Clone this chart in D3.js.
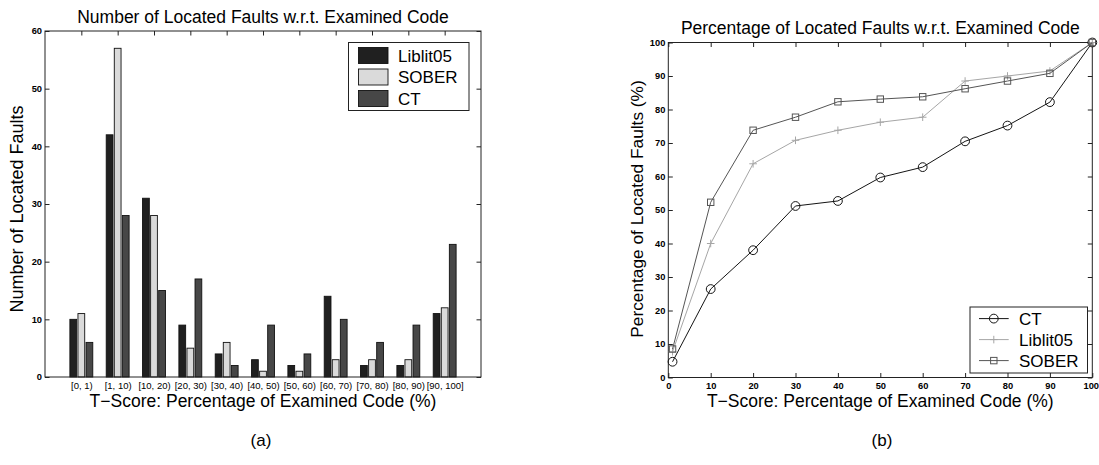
<!DOCTYPE html>
<html>
<head>
<meta charset="utf-8">
<script src="https://cdn.jsdelivr.net/npm/d3@7/dist/d3.min.js"></script>
<style>
  html, body { margin: 0; padding: 0; background: #fff; }
  svg { display: block; }
  text { font-family: "Liberation Sans", Arial, Helvetica, sans-serif; fill: #000; }
</style>
</head>
<body>
<svg id="chart" width="1099" height="465"></svg>
<script>
// ---------- Data: panel (a) ----------
const categories = ["[0, 1)", "[1, 10)", "[10, 20)", "[20, 30)", "[30, 40)", "[40, 50)",
                    "[50, 60)", "[60, 70)", "[70, 80)", "[80, 90)", "[90, 100]"];
const barSeriesNames = ["Liblit05", "SOBER", "CT"];
const liblitCounts = [10, 42, 31, 9, 4, 3, 2, 14, 2, 2, 11];
const soberCounts  = [11, 57, 28, 5, 6, 1, 1, 3, 3, 3, 12];
const ctCounts     = [6, 28, 15, 17, 2, 9, 4, 10, 6, 9, 23];
const countTicks   = [0, 10, 20, 30, 40, 50, 60];

// ---------- Data: panel (b) ----------
const tScores    = [1, 10, 20, 30, 40, 50, 60, 70, 80, 90, 100];
const ctPct      = [4.7, 26.4, 38.0, 51.2, 52.7, 59.7, 62.8, 70.5, 75.2, 82.2, 100];
const liblitPct  = [7.7, 40.0, 63.8, 70.8, 73.8, 76.2, 77.7, 88.5, 90.0, 91.5, 100];
const soberPct   = [8.5, 52.3, 73.8, 77.7, 82.3, 83.1, 83.8, 86.2, 88.5, 90.8, 100];
const lineSeriesNames = ["CT", "Liblit05", "SOBER"];
const pctTicks   = [0, 10, 20, 30, 40, 50, 60, 70, 80, 90, 100];

// ---------- Styles ----------
const FONT = '"Liberation Sans", Arial, Helvetica, sans-serif';
const barColors = { "Liblit05": "#202020", "SOBER": "#dadada", "CT": "#474747" };
const lineColors = { "CT": "#141414", "Liblit05": "#a6a6a6", "SOBER": "#555555" };
const lineMarkers = { "CT": "circle", "Liblit05": "plus", "SOBER": "square" };
const axisColor = "#222";
const tickLen = 4.5;
const tickFont = 9.3;
const W = 1099;

const svg = d3.select("#chart");

function styleTicks(g) {
  g.select(".domain").remove();
  g.selectAll("line").attr("stroke", axisColor);
  g.selectAll("text").attr("font-family", FONT).attr("font-size", tickFont)
    .attr("font-weight", "bold").attr("fill", "#111");
}

// ================= Panel (a) =================
const A = { left: 45, right: 481, top: 31, bottom: 377 };
const gA = svg.append("g");

const xA = d3.scaleLinear().domain([0, categories.length + 1]).range([A.left, A.right]);
const yA = d3.scaleLinear().domain([0, 60]).range([A.bottom, A.top]);

const barData = [liblitCounts, soberCounts, ctCounts];
const offsets = [-0.222, 0, 0.222];
const barW = 0.186;

barData.forEach((vals, k) => {
  gA.append("g").selectAll("rect")
    .data(vals)
    .join("rect")
    .attr("x", (d, i) => xA(i + 1 + offsets[k] - barW / 2))
    .attr("width", xA(barW) - xA(0))
    .attr("y", d => yA(d))
    .attr("height", d => yA(0) - yA(d))
    .attr("fill", barColors[barSeriesNames[k]])
    .attr("stroke", "#111")
    .attr("stroke-width", 0.9);
});

gA.append("rect")
  .attr("x", A.left).attr("y", A.top)
  .attr("width", A.right - A.left).attr("height", A.bottom - A.top)
  .attr("fill", "none").attr("stroke", axisColor).attr("stroke-width", 1);

const gyA = gA.append("g").attr("transform", `translate(${A.left},0)`)
  .call(d3.axisLeft(yA).tickValues(countTicks).tickSizeInner(-tickLen).tickSizeOuter(0).tickPadding(3));
styleTicks(gyA);

const gyA2 = gA.append("g").attr("transform", `translate(${A.right},0)`)
  .call(d3.axisRight(yA).tickValues(countTicks).tickSizeInner(-tickLen).tickSizeOuter(0).tickFormat(""));
styleTicks(gyA2);

const catTicks = categories.map((c, i) => i + 1);
const gxA = gA.append("g").attr("transform", `translate(0,${A.bottom})`)
  .call(d3.axisBottom(xA).tickValues(catTicks).tickSizeInner(0).tickSizeOuter(0)
    .tickPadding(5).tickFormat(d => categories[d - 1]));
styleTicks(gxA);
gxA.selectAll("line").remove();
gxA.selectAll("text").attr("font-weight", "normal").attr("font-size", 9.5);

const gxA2 = gA.append("g").attr("transform", `translate(0,${A.top})`)
  .call(d3.axisTop(xA).tickValues(catTicks).tickSizeInner(-tickLen).tickSizeOuter(0).tickFormat(""));
styleTicks(gxA2);

gA.append("text").attr("x", (A.left + A.right) / 2).attr("y", 23)
  .attr("text-anchor", "middle").attr("font-size", 17.5)
  .text("Number of Located Faults w.r.t. Examined Code");
gA.append("text").attr("x", (A.left + A.right) / 2).attr("y", 407)
  .attr("text-anchor", "middle").attr("font-size", 17.5)
  .text("T\u2212Score: Percentage of Examined Code (%)");
gA.append("text")
  .attr("transform", `translate(23,209) rotate(-90)`)
  .attr("text-anchor", "middle").attr("font-size", 18)
  .text("Number of Located Faults");

const legA = gA.append("g");
legA.append("rect").attr("x", 348.5).attr("y", 42.5).attr("width", 120.5).attr("height", 68)
  .attr("fill", "#fff").attr("stroke", axisColor).attr("stroke-width", 1);
barSeriesNames.forEach((name, k) => {
  const cy = 55.5 + k * 21.5;
  legA.append("rect").attr("x", 358.5).attr("y", cy - 8).attr("width", 29.5).attr("height", 16)
    .attr("fill", barColors[name]).attr("stroke", "#111").attr("stroke-width", 0.9);
  legA.append("text").attr("x", 398).attr("y", cy + 6).attr("font-size", 17).text(name);
});

gA.append("text").attr("x", 261).attr("y", 446).attr("text-anchor", "middle")
  .attr("font-size", 17).text("(a)");

// ================= Panel (b) =================
const B = { left: 668.3, right: 1092.3, top: 42.5, bottom: 377.5 };
const gB = svg.append("g");
const xB = d3.scaleLinear().domain([0, 100]).range([B.left, B.right]);
const yB = d3.scaleLinear().domain([0, 100]).range([B.bottom, B.top]);

gB.append("rect")
  .attr("x", B.left).attr("y", B.top)
  .attr("width", B.right - B.left).attr("height", B.bottom - B.top)
  .attr("fill", "none").attr("stroke", axisColor).attr("stroke-width", 1);

const gyB = gB.append("g").attr("transform", `translate(${B.left},0)`)
  .call(d3.axisLeft(yB).tickValues(pctTicks).tickSizeInner(-tickLen).tickSizeOuter(0).tickPadding(3));
styleTicks(gyB);

const gyB2 = gB.append("g").attr("transform", `translate(${B.right},0)`)
  .call(d3.axisRight(yB).tickValues(pctTicks).tickSizeInner(-tickLen).tickSizeOuter(0).tickFormat(""));
styleTicks(gyB2);

const gxB = gB.append("g").attr("transform", `translate(0,${B.bottom})`)
  .call(d3.axisBottom(xB).tickValues(pctTicks).tickSizeInner(-tickLen).tickSizeOuter(0).tickPadding(5));
styleTicks(gxB);
// keep the last label ("100") inside the page edge
gxB.selectAll(".tick").filter(d => d === 100).select("text")
  .attr("text-anchor", "end").attr("x", W - 0.5 - B.right);

const gxB2 = gB.append("g").attr("transform", `translate(0,${B.top})`)
  .call(d3.axisTop(xB).tickValues(pctTicks).tickSizeInner(-tickLen).tickSizeOuter(0).tickFormat(""));
styleTicks(gxB2);

function drawMarker(g, type, x, y, color) {
  if (type === "circle") {
    g.append("circle").attr("cx", x).attr("cy", y).attr("r", 4.4)
      .attr("fill", "none").attr("stroke", color).attr("stroke-width", 1);
  } else if (type === "square") {
    g.append("rect").attr("x", x - 3.2).attr("y", y - 3.2).attr("width", 6.4).attr("height", 6.4)
      .attr("fill", "none").attr("stroke", color).attr("stroke-width", 1);
  } else {
    g.append("path").attr("d", `M${x - 3.8},${y}H${x + 3.8}M${x},${y - 3.8}V${y + 3.8}`)
      .attr("stroke", color).attr("stroke-width", 1);
  }
}

const lineData = { "CT": ctPct, "Liblit05": liblitPct, "SOBER": soberPct };
const lineGen = d3.line().x((d, i) => xB(tScores[i])).y(d => yB(d));
lineSeriesNames.forEach(name => {
  const vals = lineData[name];
  const g = gB.append("g");
  g.append("path").datum(vals).attr("d", lineGen)
    .attr("fill", "none").attr("stroke", lineColors[name]).attr("stroke-width", 1);
  vals.forEach((v, i) => drawMarker(g, lineMarkers[name], xB(tScores[i]), yB(v), lineColors[name]));
});

gB.append("text").attr("x", (B.left + B.right) / 2).attr("y", 33.5)
  .attr("text-anchor", "middle").attr("font-size", 17.5)
  .text("Percentage of Located Faults w.r.t. Examined Code");
gB.append("text").attr("x", (B.left + B.right) / 2).attr("y", 407)
  .attr("text-anchor", "middle").attr("font-size", 17.5)
  .text("T\u2212Score: Percentage of Examined Code (%)");
gB.append("text")
  .attr("transform", `translate(643,209) rotate(-90)`)
  .attr("text-anchor", "middle").attr("font-size", 17.3)
  .text("Percentage of Located Faults (%)");

const legB = gB.append("g");
legB.append("rect").attr("x", 970).attr("y", 307).attr("width", 117.5).attr("height", 66)
  .attr("fill", "#fff").attr("stroke", axisColor).attr("stroke-width", 1);
lineSeriesNames.forEach((name, k) => {
  const cy = 318.6 + k * 21;
  legB.append("line").attr("x1", 979).attr("x2", 1008.7).attr("y1", cy).attr("y2", cy)
    .attr("stroke", lineColors[name]).attr("stroke-width", 1);
  drawMarker(legB, lineMarkers[name], 993.8, cy, lineColors[name]);
  legB.append("text").attr("x", 1019).attr("y", cy + 6).attr("font-size", 17).text(name);
});

gB.append("text").attr("x", 882).attr("y", 446).attr("text-anchor", "middle")
  .attr("font-size", 17).text("(b)");
</script>
</body>
</html>
